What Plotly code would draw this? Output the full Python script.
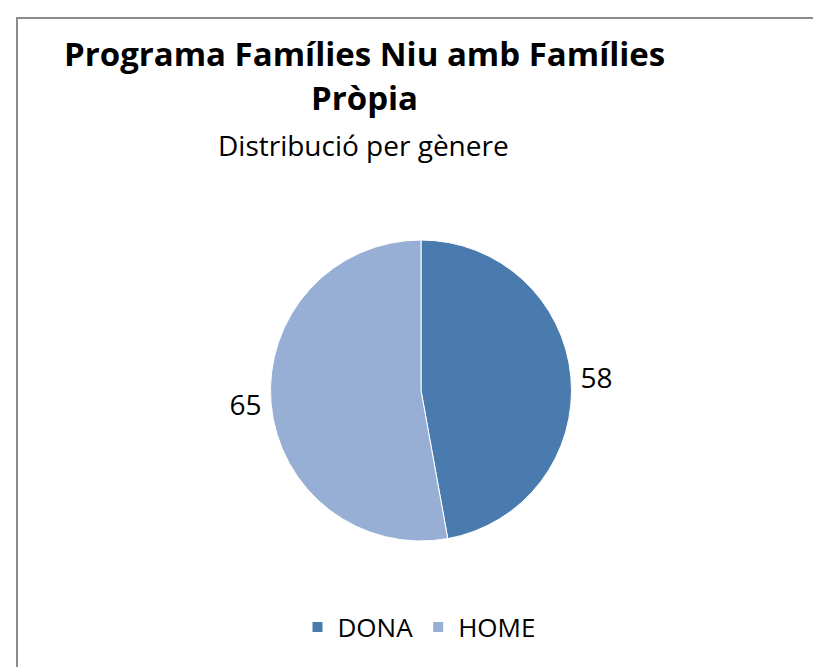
import plotly.graph_objects as go

labels = ["DONA", "HOME"]
values = [58, 65]
colors = ["#4A7BAF", "#97AFD4"]

W, H = 821, 667
FONT = "Open Sans, Calibri, Carlito, sans-serif"

fig = go.Figure(go.Pie(
    labels=labels,
    values=values,
    marker=dict(colors=colors, line=dict(color="white", width=1)),
    sort=False,
    direction="clockwise",
    rotation=0,
    textinfo="value",
    textposition="outside",
    textfont=dict(family=FONT, size=28, color="#000000"),
    showlegend=True,
    domain=dict(x=[197 / W, 629 / W], y=[1 - 533 / H, 1 - 232 / H]),
    hoverinfo="label+value+percent",
))

fig.update_layout(
    width=W, height=H,
    margin=dict(l=0, r=0, t=0, b=0),
    paper_bgcolor="white",
    plot_bgcolor="white",
    font=dict(family=FONT, color="#000000"),
    legend=dict(
        orientation="h", x=411 / W, xanchor="center", y=1 - 619 / H, yanchor="middle",
        font=dict(family=FONT, size=26, color="#000000"),
        itemsizing="constant", itemwidth=30, traceorder="normal",
    ),
    shapes=[dict(type="rect", xref="paper", yref="paper",
                 x0=9 / W, x1=1.05, y0=-0.05, y1=1 - 10 / H,
                 line=dict(color="#8C8C8C", width=2), fillcolor="rgba(0,0,0,0)")],
    annotations=[
        dict(text="<b>Programa Famílies Niu amb Famílies</b>", x=356 / W, y=1 - 45 / H,
             xref="paper", yref="paper", showarrow=False, xanchor="center", yanchor="middle",
             font=dict(family=FONT, size=33, color="#000000")),
        dict(text="<b>Pròpia</b>", x=356 / W, y=1 - 90 / H,
             xref="paper", yref="paper", showarrow=False, xanchor="center", yanchor="middle",
             font=dict(family=FONT, size=33, color="#000000")),
        dict(text="Distribució per gènere", x=355 / W, y=1 - 137 / H,
             xref="paper", yref="paper", showarrow=False, xanchor="center", yanchor="middle",
             font=dict(family=FONT, size=28, color="#000000")),
    ],
)

fig.write_html("out.html")
